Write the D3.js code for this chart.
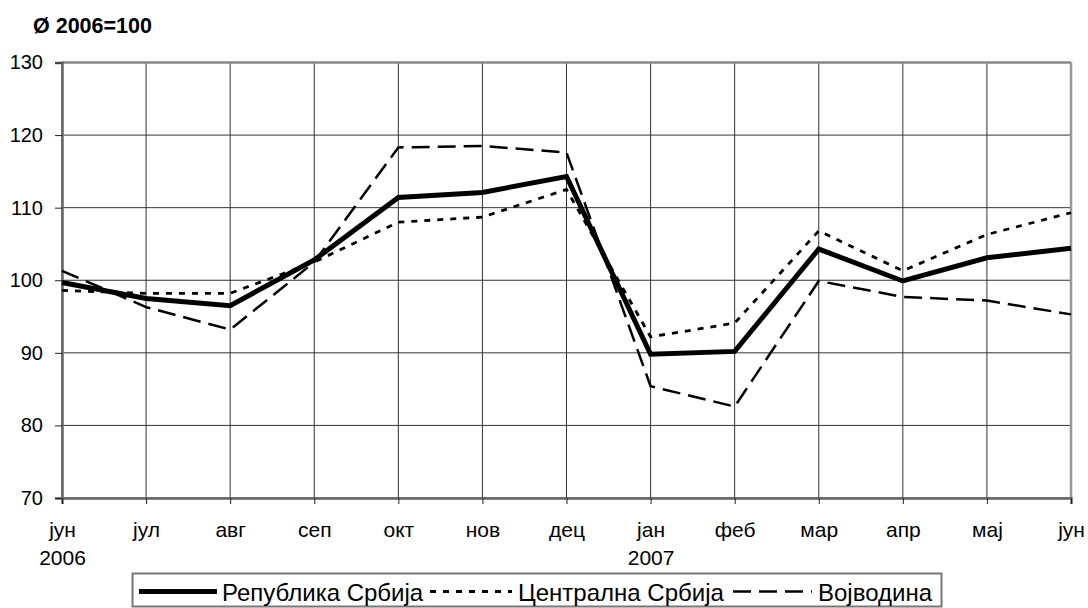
<!DOCTYPE html>
<html><head><meta charset="utf-8">
<script src="https://cdn.jsdelivr.net/npm/d3@7"></script>
<style>body{margin:0;background:#fff}svg{display:block;font-family:"Liberation Sans",Arial,sans-serif}</style>
</head><body><svg id="c" width="1088" height="608"></svg>
<script>
const months = ["јун","јул","авг","сеп","окт","нов","дец","јан","феб","мар","апр","мај","јун"];
const years = ["2006","","","","","","","2007","","","","",""];
const republika = [99.7,97.5,96.5,102.8,111.4,112.1,114.3,89.8,90.2,104.3,99.9,103.1,104.4];
const centralna = [98.6,98.2,98.2,102.5,108.0,108.7,112.5,92.2,94.1,106.8,101.3,106.3,109.3];
const vojvodina = [101.3,96.3,93.2,102.5,118.3,118.5,117.6,85.4,82.6,99.9,97.7,97.2,95.3];
const yTicks = [70,80,90,100,110,120,130];
const seriesNames = ["Република Србија","Централна Србија","Војводина"];

const svg = d3.select("#c");
const L=62,R=1071,T=62.5,B=498;
const x = d3.scalePoint().domain(d3.range(months.length)).range([L,R]);
const y = d3.scaleLinear().domain([70,130]).range([B,T]);

// gridlines
svg.append("g").selectAll("line").data(yTicks).join("line")
  .attr("x1",L).attr("x2",R).attr("y1",d=>y(d)).attr("y2",d=>y(d))
  .attr("stroke","#333").attr("stroke-width",1);
svg.append("g").selectAll("line").data(d3.range(months.length)).join("line")
  .attr("x1",d=>x(d)).attr("x2",d=>x(d)).attr("y1",T).attr("y2",B)
  .attr("stroke","#333").attr("stroke-width",1);
// frame
svg.append("line").attr("x1",L).attr("x2",R).attr("y1",T).attr("y2",T).attr("stroke","#888").attr("stroke-width",2.5);
svg.append("line").attr("x1",R).attr("x2",R).attr("y1",T).attr("y2",B).attr("stroke","#999").attr("stroke-width",2.5);

// y axis
const ya = svg.append("g").attr("transform",`translate(${L},0)`)
  .call(d3.axisLeft(y).tickValues(yTicks).tickSize(7).tickPadding(12));
ya.select(".domain").attr("stroke","#666").attr("stroke-width",2.5);
ya.selectAll(".tick line").attr("stroke","#222");
ya.selectAll("text").attr("font-size",20).attr("fill","#000").attr("font-family","Liberation Sans, Arial");
// x axis
const xa = svg.append("g").attr("transform",`translate(0,${B})`)
  .call(d3.axisBottom(x).tickSize(6).tickFormat(""));
xa.select(".domain").attr("stroke","#666").attr("stroke-width",2.5);
xa.selectAll(".tick line").attr("stroke","#222");
xa.selectAll(".tick").append("text").attr("y",39).attr("fill","#000").attr("font-size",21)
  .attr("text-anchor","middle").text(d=>months[d]);
xa.selectAll(".tick").append("text").attr("y",67).attr("fill","#000").attr("font-size",21)
  .attr("text-anchor","middle").text(d=>years[d]);

// lines
const line = d3.line().x((d,i)=>x(i)).y(d=>y(d));
const styles = [
  {data:republika,w:5,dash:null},
  {data:centralna,w:2.8,dash:"6,7"},
  {data:vojvodina,w:2.5,dash:"18,8"}
];
styles.slice().reverse().forEach(s=>{
  svg.append("path").datum(s.data).attr("d",line).attr("fill","none")
    .attr("stroke","#000").attr("stroke-width",s.w)
    .attr("stroke-dasharray",s.dash).attr("stroke-linejoin","miter");
});

// title
svg.append("text").attr("x",33).attr("y",33).attr("font-size",21.5).attr("font-weight","bold").text("Ø 2006=100");

// legend
const lg = svg.append("g");
lg.append("rect").attr("x",132.5).attr("y",573.5).attr("width",809).attr("height",33)
  .attr("fill","#fff").attr("stroke","#777").attr("stroke-width",2);
const legItems = [
  {x1:139,x2:217,tx:222},
  {x1:430,x2:512,tx:518},
  {x1:733,x2:812,tx:818}
];
legItems.forEach((p,i)=>{
  lg.append("line").attr("x1",p.x1).attr("x2",p.x2).attr("y1",591.5).attr("y2",591.5)
    .attr("stroke","#000").attr("stroke-width",styles[i].w).attr("stroke-dasharray",styles[i].dash);
  lg.append("text").attr("x",p.tx).attr("y",600.5).attr("font-size",24).text(seriesNames[i]);
});
</script></body></html>
